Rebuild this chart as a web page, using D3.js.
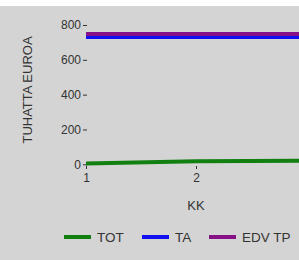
<!DOCTYPE html>
<html>
<head>
<meta charset="utf-8">
<script src="https://cdn.jsdelivr.net/npm/d3@7"></script>
<style>
  body { margin: 0; background: #fff; overflow: hidden; }
  text { font-family: "Liberation Sans", Arial, sans-serif; fill: #333; }
</style>
</head>
<body>
<div id="chart"></div>
<script>
// data
const months = [1, 2, 3]
const tot = [4, 18, 20]
const ta = [731, 731, 731]
const edvTp = [748, 748, 748]
const yTicks = [0, 200, 400, 600, 800]
const seriesNames = ['TOT', 'TA', 'EDV TP']
const seriesColors = ['#118011', '#1010f0', '#861086']

const width = 299, height = 260

const svg = d3.select('#chart')
    .append('svg')
    .attr('width', width)
    .attr('height', height)

svg.append('rect')
    .attr('x', 0).attr('y', 6)
    .attr('width', width).attr('height', height - 6)
    .attr('fill', '#d4d4d4')

// plot runs past the right edge of the window, as in the original
const x = d3.scaleLinear().domain([1, 3]).range([86, 306])
const y = d3.scaleLinear().domain([0, 800]).range([164.3, 25])

// y axis: labels with a little dash, no axis line
const yAxis = svg.append('g')
    .attr('transform', 'translate(87,0)')
    .call(d3.axisLeft(y).tickValues(yTicks).tickSize(4).tickPadding(2))
yAxis.select('.domain').remove()
yAxis.selectAll('line').attr('stroke', '#333')
yAxis.selectAll('text').attr('font-size', '12px').attr('fill', '#333')
    .attr('font-family', '"Liberation Sans", Arial, sans-serif')

// x axis, only the ticks that fall inside the window
const xAxis = svg.append('g')
    .attr('transform', 'translate(0,166)')
    .call(d3.axisBottom(x)
        .tickValues(months.filter(m => x(m) < width))
        .tickFormat(d3.format('d')).tickSize(3).tickPadding(4))
xAxis.select('.domain').remove()
xAxis.selectAll('line').attr('stroke', '#333')
xAxis.selectAll('text').attr('font-size', '12px').attr('fill', '#333')
    .attr('font-family', '"Liberation Sans", Arial, sans-serif')

svg.append('text')
    .attr('x', x(2))
    .attr('y', 210)
    .attr('text-anchor', 'middle')
    .attr('font-size', '13px')
    .text('KK')

svg.append('text')
    .attr('transform', 'translate(32,90) rotate(-90)')
    .attr('text-anchor', 'middle')
    .attr('font-size', '13px')
    .text('TUHATTA EUROA')

const line = d3.line()
    .x((d, i) => x(months[i]))
    .y(d => y(d))

const allSeries = [tot, ta, edvTp]
svg.append('g').selectAll('path')
    .data(allSeries)
    .join('path')
    .attr('d', line)
    .attr('fill', 'none')
    .attr('stroke', (d, i) => seriesColors[i])
    .attr('stroke-width', 4)

// legend
const legendX = [64, 142, 209]
const legend = svg.append('g')
    .selectAll('g')
    .data(seriesNames)
    .join('g')
    .attr('transform', (d, i) => `translate(${legendX[i]},237)`)
legend.append('line')
    .attr('x1', 0).attr('x2', 27)
    .attr('stroke', (d, i) => seriesColors[i])
    .attr('stroke-width', 4)
legend.append('text')
    .attr('x', 33)
    .attr('y', 5)
    .attr('font-size', '13.5px')
    .text(d => d)
</script>
</body>
</html>
